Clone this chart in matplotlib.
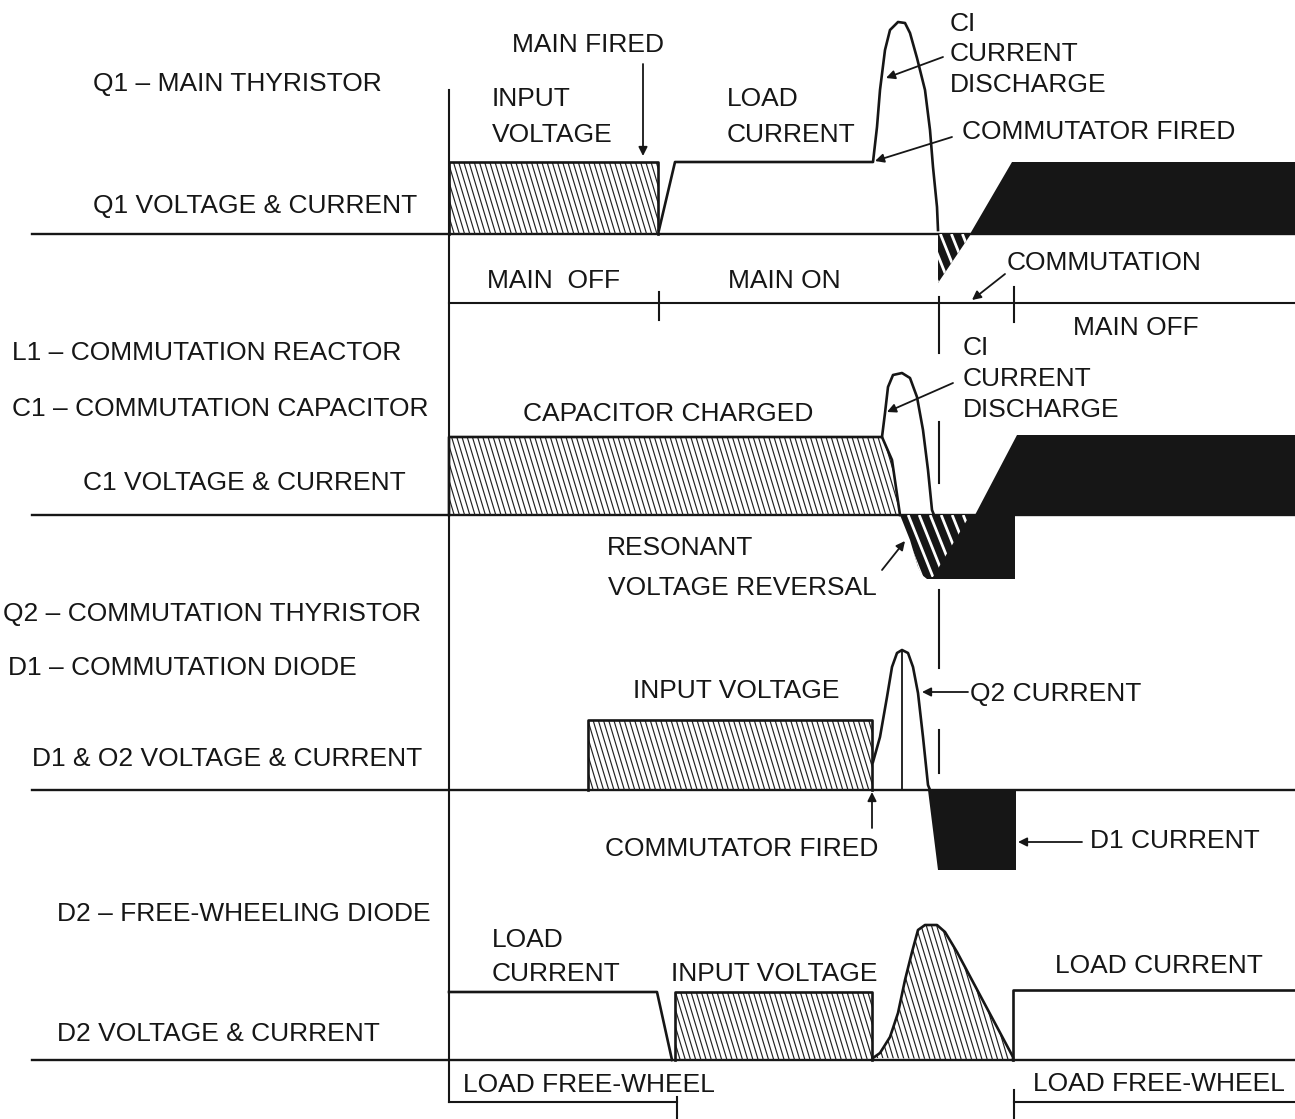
import numpy as np
import matplotlib.pyplot as plt
from matplotlib.patches import Polygon
from matplotlib.collections import LineCollection

plt.rcParams['font.family'] = ['Liberation Sans', 'DejaVu Sans']

# zero line of each trace (page units, y grows downward)
base_q1, base_c1, base_d1, base_d2 = 234, 515, 790, 1060

# Q1 - main thyristor: time / level above zero line
q1_volt_t = [449, 449, 658, 658]
q1_volt_v = [0, 72, 72, 0]
q1_curr_t = [659, 675, 873, 877, 880, 885, 890, 898, 905, 910, 917, 925, 930, 933, 937, 938]
q1_curr_v = [4, 72, 72, 107, 144, 184, 204, 212, 211, 201, 176, 144, 104, 67, 27, 4]
q1_rev_t = [938, 938, 971]
q1_rev_v = [0, -49, 0]
q1_off_t = [970, 1012, 1295, 1295]
q1_off_v = [0, 72, 72, 0]

# C1 - commutation capacitor
c1_charge_t = [449, 449, 882, 892, 900]
c1_charge_v = [0, 78, 78, 55, 0]
c1_pulse_t = [882, 885, 888, 893, 902, 910, 917, 923, 928, 932, 934]
c1_pulse_v = [78, 102, 128, 140, 142, 137, 118, 85, 45, 5, 0]
c1_rev_t = [900, 910, 918, 922, 927, 1015, 1015]
c1_rev_v = [0, -25, -52, -60, -64, -64, 0]
c1_stripe_t = [900, 910, 918, 922, 933, 970]
c1_stripe_v = [0, -25, -52, -62, -62, 0]
c1_off_t = [975, 1017, 1295, 1295]
c1_off_v = [0, 80, 80, 0]

# D1 & Q2
d1_volt_t = [588, 588, 872, 872]
d1_volt_v = [0, 70, 70, 0]
d1_q2_t = [873, 880, 887, 892, 897, 902, 908, 913, 918, 923, 928, 930]
d1_q2_v = [28, 53, 93, 123, 137, 140, 137, 123, 97, 53, 5, 0]
d1_d1_t = [928, 938, 1016, 1016]
d1_d1_v = [0, -80, -80, 0]

# D2 - free-wheeling diode
d2_load1_t = [449, 657, 672]
d2_load1_v = [68, 68, 0]
d2_volt_t = [675, 675, 872, 872]
d2_volt_v = [0, 68, 68, 0]
d2_rec_t = [873, 880, 890, 898, 905, 912, 918, 925, 937, 945, 957, 1013, 1013]
d2_rec_v = [2, 7, 23, 47, 80, 108, 130, 135, 135, 128, 108, 3, 0]
d2_load2_t = [1013, 1013, 1295]
d2_load2_v = [0, 70, 70]

# event times
t_start, t_fire, t_comm, t_comm_end, t_fw = 449, 659, 939, 1014, 677

left_labels = [
    (93, 82, 'Q1 – MAIN THYRISTOR'),
    (93, 204, 'Q1 VOLTAGE & CURRENT'),
    (12, 351, 'L1 – COMMUTATION REACTOR'),
    (12, 407, 'C1 – COMMUTATION CAPACITOR'),
    (83, 481, 'C1 VOLTAGE & CURRENT'),
    (3, 612, 'Q2 – COMMUTATION THYRISTOR'),
    (8, 666, 'D1 – COMMUTATION DIODE'),
    (32, 757, 'D1 & O2 VOLTAGE & CURRENT'),
    (57, 912, 'D2 – FREE-WHEELING DIODE'),
    (57, 1032, 'D2 VOLTAGE & CURRENT'),
]
notes = [
    (512, 43, 'MAIN FIRED'),
    (492, 97, 'INPUT'), (492, 133, 'VOLTAGE'),
    (727, 97, 'LOAD'), (727, 133, 'CURRENT'),
    (950, 22, 'CI'), (950, 52, 'CURRENT'), (950, 83, 'DISCHARGE'),
    (962, 130, 'COMMUTATOR FIRED'),
    (487, 279, 'MAIN  OFF'), (728, 279, 'MAIN ON'),
    (1007, 261, 'COMMUTATION'), (1073, 326, 'MAIN OFF'),
    (963, 346, 'CI'), (963, 377, 'CURRENT'), (963, 408, 'DISCHARGE'),
    (523, 412, 'CAPACITOR CHARGED'),
    (607, 546, 'RESONANT'), (608, 586, 'VOLTAGE REVERSAL'),
    (633, 689, 'INPUT VOLTAGE'), (970, 692, 'Q2 CURRENT'),
    (605, 847, 'COMMUTATOR FIRED'), (1090, 839, 'D1 CURRENT'),
    (492, 938, 'LOAD'), (492, 972, 'CURRENT'),
    (671, 972, 'INPUT VOLTAGE'), (1055, 964, 'LOAD CURRENT'),
    (463, 1083, 'LOAD FREE-WHEEL'), (1033, 1082, 'LOAD FREE-WHEEL'),
]
arrows = [
    ((643, 64), (643, 156)),
    ((943, 57), (886, 78)),
    ((952, 137), (875, 161)),
    ((1005, 274), (972, 300)),
    ((953, 383), (887, 412)),
    ((882, 570), (905, 541)),
    ((968, 692), (922, 692)),
    ((872, 828), (872, 792)),
    ((1082, 842), (1018, 842)),
]

INK = '#161616'

fig = plt.figure(figsize=(12.95, 11.19), dpi=100)
ax = fig.add_axes([0, 0, 1, 1])
ax.set_xlim(0, 1295)
ax.set_ylim(1119, 0)
ax.axis('off')


def lv(base, v):
    return base - np.asarray(v, dtype=float)


def hatch(t, y, spacing, slope, lw, color, z):
    poly = Polygon(np.column_stack([t, y]), closed=True, fc='none', ec='none')
    ax.add_patch(poly)
    y0, y1 = min(y), max(y)
    h = y1 - y0
    starts = np.arange(min(t) - slope * h - spacing, max(t) + spacing, spacing)
    segs = [[(s, y0), (s + slope * h, y1)] for s in starts]
    lc = LineCollection(segs, colors=color, linewidths=lw, zorder=z)
    lc.set_clip_path(poly)
    ax.add_collection(lc)


def fine(t, y):
    hatch(t, y, 5.2, 0.3, 0.85, '#222222', 3)


def solid(t, y):
    ax.fill(t, y, color=INK, lw=0, zorder=3)


def stripes(t, y):
    hatch(t, y, 11, 0.4, 2.0, 'white', 4)


# axes, zero lines, time bars
for b in (base_q1, base_c1, base_d1, base_d2):
    ax.plot([32, 1295], [b, b], color=INK, lw=1.7, zorder=2)
ax.plot([t_start, t_start], [90, 1102], color=INK, lw=1.5, zorder=2)
ax.plot([t_start, 1295], [303, 303], color=INK, lw=1.5, zorder=2)
ax.plot([t_fire, t_fire], [292, 320], color=INK, lw=1.5)
ax.plot([t_comm_end, t_comm_end], [287, 322], color=INK, lw=1.5)
for y0, y1 in [(297, 353), (422, 483), (590, 668), (730, 773)]:
    ax.plot([t_comm, t_comm], [y0, y1], color=INK, lw=1.5)
ax.plot([t_start, t_fw], [1102, 1102], color=INK, lw=1.5)
ax.plot([t_fw, t_fw], [1097, 1119], color=INK, lw=1.5)
ax.plot([t_comm_end, 1295], [1102, 1102], color=INK, lw=1.5)
ax.plot([t_comm_end, t_comm_end], [1090, 1118], color=INK, lw=1.5)

# Q1
y = lv(base_q1, q1_volt_v)
fine(q1_volt_t, y)
ax.plot(q1_volt_t, y, color=INK, lw=1.9, zorder=5)
ax.plot(q1_curr_t, lv(base_q1, q1_curr_v), color=INK, lw=1.9, zorder=5)
y = lv(base_q1, q1_rev_v)
solid(q1_rev_t, y)
stripes(q1_rev_t, y)
solid(q1_off_t, lv(base_q1, q1_off_v))

# C1
y = lv(base_c1, c1_charge_v)
fine(c1_charge_t, y)
ax.plot(c1_charge_t, y, color=INK, lw=1.9, zorder=5)
ax.plot(c1_pulse_t, lv(base_c1, c1_pulse_v), color=INK, lw=1.9, zorder=5)
solid(c1_rev_t, lv(base_c1, c1_rev_v))
stripes(c1_stripe_t, lv(base_c1, c1_stripe_v))
solid(c1_off_t, lv(base_c1, c1_off_v))

# D1 & Q2
y = lv(base_d1, d1_volt_v)
fine(d1_volt_t, y)
ax.plot(d1_volt_t, y, color=INK, lw=1.9, zorder=5)
ax.plot(d1_q2_t, lv(base_d1, d1_q2_v), color=INK, lw=1.9, zorder=5)
ax.plot([d1_q2_t[5], d1_q2_t[5]], [lv(base_d1, d1_q2_v)[5], base_d1], color=INK, lw=1.3, zorder=5)
solid(d1_d1_t, lv(base_d1, d1_d1_v))

# D2
ax.plot(d2_load1_t, lv(base_d2, d2_load1_v), color=INK, lw=1.9, zorder=5)
y = lv(base_d2, d2_volt_v)
fine(d2_volt_t, y)
ax.plot(d2_volt_t, y, color=INK, lw=1.9, zorder=5)
y = lv(base_d2, d2_rec_v)
fine(d2_rec_t, y)
ax.plot(d2_rec_t, y, color=INK, lw=1.9, zorder=5)
ax.plot(d2_load2_t, lv(base_d2, d2_load2_v), color=INK, lw=1.9, zorder=5)

# text
for x, yc, s in left_labels + notes:
    ax.text(x, yc + 9, s, fontsize=19, color=INK, ha='left', va='baseline', zorder=6)

for tail, head in arrows:
    ax.annotate('', xy=head, xytext=tail,
                arrowprops=dict(arrowstyle='-|>', lw=1.3, color=INK,
                                mutation_scale=13, shrinkA=0, shrinkB=0),
                zorder=6)

fig.savefig('out.png', dpi=100, facecolor='white')
